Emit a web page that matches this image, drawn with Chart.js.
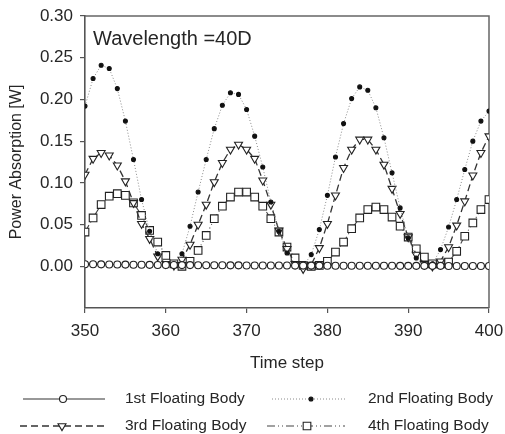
<!DOCTYPE html>
<html>
<head>
<meta charset="utf-8">
<script src="https://cdn.jsdelivr.net/npm/chart.js@4.4.0/dist/chart.umd.min.js"></script>
<style>
  html, body { margin: 0; padding: 0; background: #fff; }
  #wrap { width: 505px; height: 434px; }
</style>
</head>
<body>
<div id="wrap"><canvas id="powerChart" width="505" height="434"></canvas></div>
<script>
'use strict';

// Time steps (x values)
const timeSteps = [350, 351, 352, 353, 354, 355, 356, 357, 358, 359,
  360, 361, 362, 363, 364, 365, 366, 367, 368, 369,
  370, 371, 372, 373, 374, 375, 376, 377, 378, 379,
  380, 381, 382, 383, 384, 385, 386, 387, 388, 389,
  390, 391, 392, 393, 394, 395, 396, 397, 398, 399, 400];

const seriesNames = ['1st Floating Body', '2nd Floating Body', '3rd Floating Body', '4th Floating Body'];

// Power absorption [W]
const body1 = [0.0025, 0.0024, 0.0023, 0.0022, 0.0021, 0.0020, 0.0019, 0.0018, 0.0017, 0.0016,
  0.0015, 0.0015, 0.0014, 0.0014, 0.0013, 0.0013, 0.0012, 0.0012, 0.0011, 0.0011,
  0.0010, 0.0010, 0.0010, 0.0009, 0.0009, 0.0009, 0.0008, 0.0008, 0.0008, 0.0008,
  0.0007, 0.0007, 0.0007, 0.0007, 0.0006, 0.0006, 0.0006, 0.0006, 0.0006, 0.0005,
  0.0005, 0.0005, 0.0005, 0.0005, 0.0005, 0.0004, 0.0004, 0.0004, 0.0004, 0.0004, 0.0004];

const body2 = [0.192, 0.225, 0.241, 0.237, 0.213, 0.174, 0.128, 0.080, 0.042, 0.015,
  0.002, 0.001, 0.015, 0.048, 0.089, 0.128, 0.165, 0.193, 0.208, 0.206,
  0.188, 0.156, 0.119, 0.077, 0.042, 0.016, 0.003, 0.000, 0.014, 0.044,
  0.085, 0.131, 0.171, 0.201, 0.215, 0.211, 0.190, 0.154, 0.112, 0.070,
  0.034, 0.010, 0.001, 0.003, 0.020, 0.047, 0.080, 0.116, 0.150, 0.174, 0.186];

const body3 = [0.110, 0.129, 0.136, 0.133, 0.121, 0.102, 0.076, 0.051, 0.033, 0.012,
  0.003, 0.001, 0.008, 0.026, 0.050, 0.074, 0.101, 0.124, 0.140, 0.146,
  0.140, 0.129, 0.103, 0.074, 0.043, 0.021, 0.003, -0.003, 0.002, 0.022,
  0.051, 0.085, 0.118, 0.140, 0.152, 0.152, 0.140, 0.122, 0.093, 0.063,
  0.035, 0.014, 0.003, 0.000, 0.006, 0.023, 0.049, 0.078, 0.109, 0.136, 0.156];

const body4 = [0.041, 0.058, 0.074, 0.084, 0.087, 0.085, 0.076, 0.061, 0.043, 0.029,
  0.013, 0.003, 0.000, 0.006, 0.019, 0.037, 0.057, 0.072, 0.083, 0.089,
  0.089, 0.083, 0.072, 0.057, 0.041, 0.023, 0.010, 0.001, 0.000, 0.001,
  0.006, 0.017, 0.029, 0.045, 0.058, 0.068, 0.071, 0.068, 0.059, 0.048,
  0.035, 0.021, 0.011, 0.003, 0.003, 0.005, 0.018, 0.036, 0.052, 0.068, 0.080];

const yTicks = [0.00, 0.05, 0.10, 0.15, 0.20, 0.25, 0.30];
const xTicks = [350, 360, 370, 380, 390, 400];

const FONT = "'Liberation Sans', Arial, sans-serif";
const INK = '#262626';
const AXIS = '#555';

function toPoints(values) {
  return values.map((v, i) => ({ x: timeSteps[i], y: v }));
}

const styles = [
  { color: '#333', dash: [], width: 1.1, pointStyle: 'circle', radius: 3.5, rotation: 0, fill: '#fff' },
  { color: '#8a8a8a', dash: [1, 2], width: 1, pointStyle: 'circle', radius: 2, rotation: 0, fill: '#111', pointBorder: '#111' },
  { color: '#333', dash: [7, 4], width: 1.3, pointStyle: 'triangle', radius: 4.6, rotation: 180, fill: '#fff' },
  { color: '#444', dash: [8, 3, 1, 3, 1, 3], width: 1.1, pointStyle: 'rect', radius: 5.4, rotation: 0, fill: '#fff' }
];

const allValues = [body1, body2, body3, body4];

const datasets = allValues.map((vals, i) => {
  const s = styles[i];
  return {
    label: seriesNames[i],
    data: toPoints(vals),
    borderColor: s.color,
    borderWidth: s.width,
    borderDash: s.dash,
    pointStyle: s.pointStyle,
    pointRadius: s.radius,
    pointRotation: s.rotation,
    pointBackgroundColor: s.fill,
    pointBorderColor: s.pointBorder || '#222',
    pointBorderWidth: 1.1,
    tension: 0,
    fill: false
  };
});

// text label + frame on top/right
const frameAndNote = {
  id: 'frameAndNote',
  beforeDatasetsDraw(chart) {
    const { ctx, chartArea } = chart;
    ctx.save();
    ctx.strokeStyle = '#666';
    ctx.lineWidth = 1.5;
    ctx.beginPath();
    ctx.moveTo(chartArea.left, chartArea.top);
    ctx.lineTo(chartArea.right, chartArea.top);
    ctx.lineTo(chartArea.right, chartArea.bottom);
    ctx.stroke();
    ctx.fillStyle = INK;
    ctx.font = '20px ' + FONT;
    ctx.textBaseline = 'alphabetic';
    ctx.fillText('Wavelength =40D', chartArea.left + 8, chartArea.top + 29);
    ctx.restore();
  }
};

function drawMarker(ctx, s, x, y) {
  ctx.save();
  ctx.fillStyle = s.fill;
  ctx.strokeStyle = s.pointBorder || '#222';
  ctx.lineWidth = 1.1;
  ctx.setLineDash([]);
  Chart.helpers.drawPoint(ctx, { pointStyle: s.pointStyle, radius: s.radius, rotation: s.rotation, borderWidth: 1.1 }, x, y);
  ctx.restore();
}

// legend below the chart, two columns
const bottomLegend = {
  id: 'bottomLegend',
  afterDraw(chart) {
    const ctx = chart.ctx;
    const items = [
      { x0: 23, x1: 105, mx: 63, tx: 125, y: 399 },
      { x0: 272, x1: 347, mx: 311, tx: 368, y: 399 },
      { x0: 20, x1: 107, mx: 62, tx: 125, y: 426 },
      { x0: 267, x1: 345, mx: 307, tx: 368, y: 426 }
    ];
    items.forEach((it, i) => {
      const s = styles[i];
      ctx.save();
      ctx.strokeStyle = s.color;
      ctx.lineWidth = s.width;
      ctx.setLineDash(s.dash);
      ctx.beginPath();
      ctx.moveTo(it.x0, it.y);
      ctx.lineTo(it.x1, it.y);
      ctx.stroke();
      ctx.restore();
      drawMarker(ctx, s, it.mx, it.y);
      ctx.save();
      ctx.fillStyle = INK;
      ctx.font = '15.5px ' + FONT;
      ctx.textBaseline = 'middle';
      ctx.fillText(seriesNames[i], it.tx, it.y);
      ctx.restore();
    });
  }
};

const ctx = document.getElementById('powerChart').getContext('2d');

new Chart(ctx, {
  type: 'line',
  data: { datasets: datasets },
  plugins: [frameAndNote, bottomLegend],
  options: {
    responsive: false,
    animation: false,
    devicePixelRatio: 1,
    layout: { padding: { left: 0, top: 16, right: 16, bottom: 60 } },
    plugins: {
      legend: { display: false },
      tooltip: { enabled: false }
    },
    scales: {
      x: {
        type: 'linear',
        min: 350,
        max: 400,
        afterFit: (scale) => {
          scale.height = 66;
          scale.paddingLeft = 0;
          scale.paddingRight = 0;
        },
        afterBuildTicks: (scale) => { scale.ticks = xTicks.map(v => ({ value: v })); },
        ticks: {
          color: INK,
          padding: 8,
          maxRotation: 0,
          font: { size: 17, family: FONT },
          callback: (v) => String(v)
        },
        grid: { drawOnChartArea: false, drawTicks: true, tickLength: 5, color: AXIS, lineWidth: 1.2 },
        border: { color: AXIS, width: 1.6 },
        title: {
          display: true,
          text: 'Time step',
          color: INK,
          padding: { top: 0, bottom: 0 },
          font: { size: 17, family: FONT }
        }
      },
      y: {
        min: -0.05,
        max: 0.30,
        afterFit: (scale) => {
          scale.width = 85;
          scale.paddingTop = 0;
          scale.paddingBottom = 0;
        },
        afterBuildTicks: (scale) => { scale.ticks = yTicks.map(v => ({ value: v })); },
        ticks: {
          color: INK,
          padding: 7,
          font: { size: 17, family: FONT },
          callback: (v) => v.toFixed(2)
        },
        grid: { drawOnChartArea: false, drawTicks: true, tickLength: 5, color: AXIS, lineWidth: 1.2 },
        border: { color: AXIS, width: 1.6 },
        title: {
          display: true,
          text: 'Power Absorption [W]',
          color: INK,
          padding: { top: 7, bottom: 0 },
          font: { size: 16, family: FONT }
        }
      }
    }
  }
});
</script>
</body>
</html>
